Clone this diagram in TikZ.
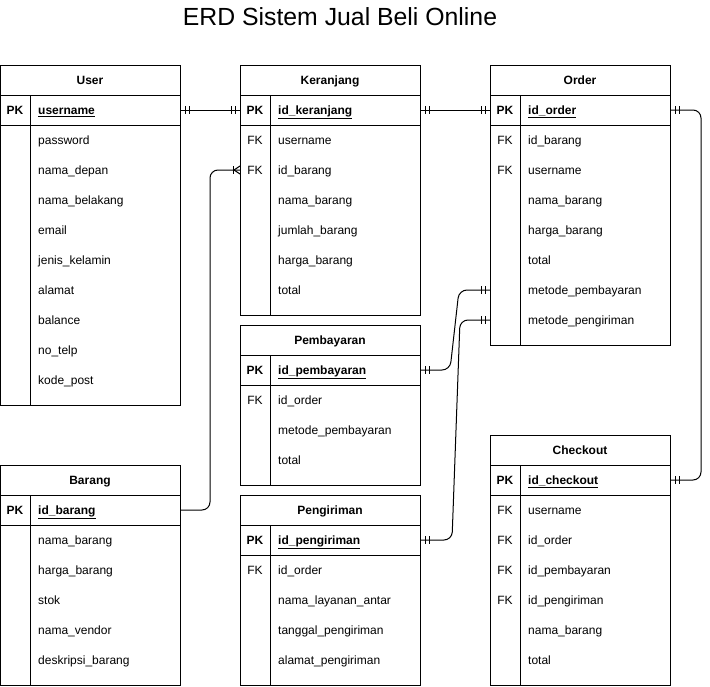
\documentclass[tikz,border=0pt]{standalone}
\usepackage{fontspec}
\setmainfont{Liberation Sans}
\usetikzlibrary{calc}
\tikzset{
  frame/.style={draw=black, line width=1pt},
  rowbox/.style={minimum width=180pt, minimum height=30pt, inner sep=0pt, outer sep=0pt},
  keytxt/.style={inner sep=0pt, anchor=base, font=\fontsize{12}{14}\selectfont},
  fieldtxt/.style={inner sep=0pt, anchor=base west, font=\fontsize{12}{14}\selectfont},
  titletxt/.style={inner sep=0pt, anchor=base, font=\fontsize{12}{14}\selectfont\bfseries},
  conn/.style={draw=black, line width=1pt, rounded corners=8pt},
}
% table frame: name, x, y, height, title
\newcommand{\erdframe}[5]{%
  \draw[frame] (#2,#3) rectangle (#2+180,#3+#4);
  \draw[frame] (#2,#3+30) -- (#2+180,#3+30);
  \draw[frame] (#2,#3+60) -- (#2+180,#3+60);
  \draw[frame] (#2+30,#3+30) -- (#2+30,#3+#4);
  \node[titletxt] (#1-t) at (#2+90,#3+19.5) {#5};
}
% pk row: name, x, ycenter, field
\newcommand{\erdpk}[4]{%
  \node[rowbox] (#1) at (#2+90,#3) {};
  \node[keytxt, font=\fontsize{12}{14}\selectfont\bfseries] (#1-k) at (#2+15,#3+4.5) {PK};
  \node[fieldtxt, font=\fontsize{12}{14}\selectfont\bfseries] (#1-f) at (#2+38,#3+4.5) {\underline{#4}};
}
% fk row
\newcommand{\erdfk}[4]{%
  \node[rowbox] (#1) at (#2+90,#3) {};
  \node[keytxt] (#1-k) at (#2+15,#3+4.5) {FK};
  \node[fieldtxt] (#1-f) at (#2+38,#3+4.5) {#4};
}
% plain row
\newcommand{\erdfield}[4]{%
  \node[rowbox] (#1) at (#2+90,#3) {};
  \node[fieldtxt] (#1-f) at (#2+38,#3+4.5) {#4};
}
% mandatory-one marker at an end: point, direction (+1 = line goes right from entity)
\newcommand{\mandone}[2]{%
  \draw[line width=1pt] ($(#1)+(#2*5,-4)$) -- ($(#1)+(#2*5,4)$);
  \draw[line width=1pt] ($(#1)+(#2*9,-4)$) -- ($(#1)+(#2*9,4)$);
}
\begin{document}
\begin{tikzpicture}[x=1pt,y=-1pt]
\useasboundingbox (0,0) rectangle (710,686);
\node[inner sep=0pt, font=\fontsize{24.8}{28}\selectfont] (title) at (340,17) {ERD Sistem Jual Beli Online};

% User
\erdframe{user}{0}{65}{340}{User}
\erdpk{user-pk}{0}{110}{username}
\erdfield{user-1}{0}{140}{password}
\erdfield{user-2}{0}{170}{nama\_depan}
\erdfield{user-3}{0}{200}{nama\_belakang}
\erdfield{user-4}{0}{230}{email}
\erdfield{user-5}{0}{260}{jenis\_kelamin}
\erdfield{user-6}{0}{290}{alamat}
\erdfield{user-7}{0}{320}{balance}
\erdfield{user-8}{0}{350}{no\_telp}
\erdfield{user-9}{0}{380}{kode\_post}

% Keranjang
\erdframe{ker}{240}{65}{250}{Keranjang}
\erdpk{ker-pk}{240}{110}{id\_keranjang}
\erdfk{ker-1}{240}{140}{username}
\erdfk{ker-2}{240}{170}{id\_barang}
\erdfield{ker-3}{240}{200}{nama\_barang}
\erdfield{ker-4}{240}{230}{jumlah\_barang}
\erdfield{ker-5}{240}{260}{harga\_barang}
\erdfield{ker-6}{240}{290}{total}

% Order
\erdframe{ord}{490}{65}{280}{Order}
\erdpk{ord-pk}{490}{110}{id\_order}
\erdfk{ord-1}{490}{140}{id\_barang}
\erdfk{ord-2}{490}{170}{username}
\erdfield{ord-3}{490}{200}{nama\_barang}
\erdfield{ord-4}{490}{230}{harga\_barang}
\erdfield{ord-5}{490}{260}{total}
\erdfield{ord-6}{490}{290}{metode\_pembayaran}
\erdfield{ord-7}{490}{320}{metode\_pengiriman}

% Pembayaran
\erdframe{pem}{240}{325}{160}{Pembayaran}
\erdpk{pem-pk}{240}{370}{id\_pembayaran}
\erdfk{pem-1}{240}{400}{id\_order}
\erdfield{pem-2}{240}{430}{metode\_pembayaran}
\erdfield{pem-3}{240}{460}{total}

% Pengiriman
\erdframe{pen}{240}{495}{190}{Pengiriman}
\erdpk{pen-pk}{240}{540}{id\_pengiriman}
\erdfk{pen-1}{240}{570}{id\_order}
\erdfield{pen-2}{240}{600}{nama\_layanan\_antar}
\erdfield{pen-3}{240}{630}{tanggal\_pengiriman}
\erdfield{pen-4}{240}{660}{alamat\_pengiriman}

% Barang
\erdframe{bar}{0}{465}{220}{Barang}
\erdpk{bar-pk}{0}{510}{id\_barang}
\erdfield{bar-1}{0}{540}{nama\_barang}
\erdfield{bar-2}{0}{570}{harga\_barang}
\erdfield{bar-3}{0}{600}{stok}
\erdfield{bar-4}{0}{630}{nama\_vendor}
\erdfield{bar-5}{0}{660}{deskripsi\_barang}

% Checkout
\erdframe{chk}{490}{435}{250}{Checkout}
\erdpk{chk-pk}{490}{480}{id\_checkout}
\erdfk{chk-1}{490}{510}{username}
\erdfk{chk-2}{490}{540}{id\_order}
\erdfk{chk-3}{490}{570}{id\_pembayaran}
\erdfk{chk-4}{490}{600}{id\_pengiriman}
\erdfield{chk-5}{490}{630}{nama\_barang}
\erdfield{chk-6}{490}{660}{total}

% Connectors
\draw[conn] (user-pk.east) -- (ker-pk.west);
\mandone{user-pk.east}{1}
\mandone{ker-pk.west}{-1}

\draw[conn] (ker-pk.east) -- (ord-pk.west);
\mandone{ker-pk.east}{1}
\mandone{ord-pk.west}{-1}

\draw[conn] (bar-pk.east) -| (210,170) -- (ker-2.west);
\draw[line width=1pt] ($(ker-2.west)+(-7,-4)$) -- ($(ker-2.west)+(-7,4)$);
\draw[line width=1pt] ($(ker-2.west)+(0,-4)$) -- ($(ker-2.west)+(-6,0)$) -- ($(ker-2.west)+(0,4)$);

\draw[conn] (pem-pk.east) -- (450,370) -- (459,290) -- (ord-6.west);
\mandone{pem-pk.east}{1}
\mandone{ord-6.west}{-1}

\draw[conn] (pen-pk.east) -- (452,540) -- (460,320) -- (ord-7.west);
\mandone{pen-pk.east}{1}
\mandone{ord-7.west}{-1}

\draw[conn] (ord-pk.east) -- (701,110) -- (701,480) -- (chk-pk.east);
\mandone{ord-pk.east}{1}
\mandone{chk-pk.east}{1}
\end{tikzpicture}
\end{document}
